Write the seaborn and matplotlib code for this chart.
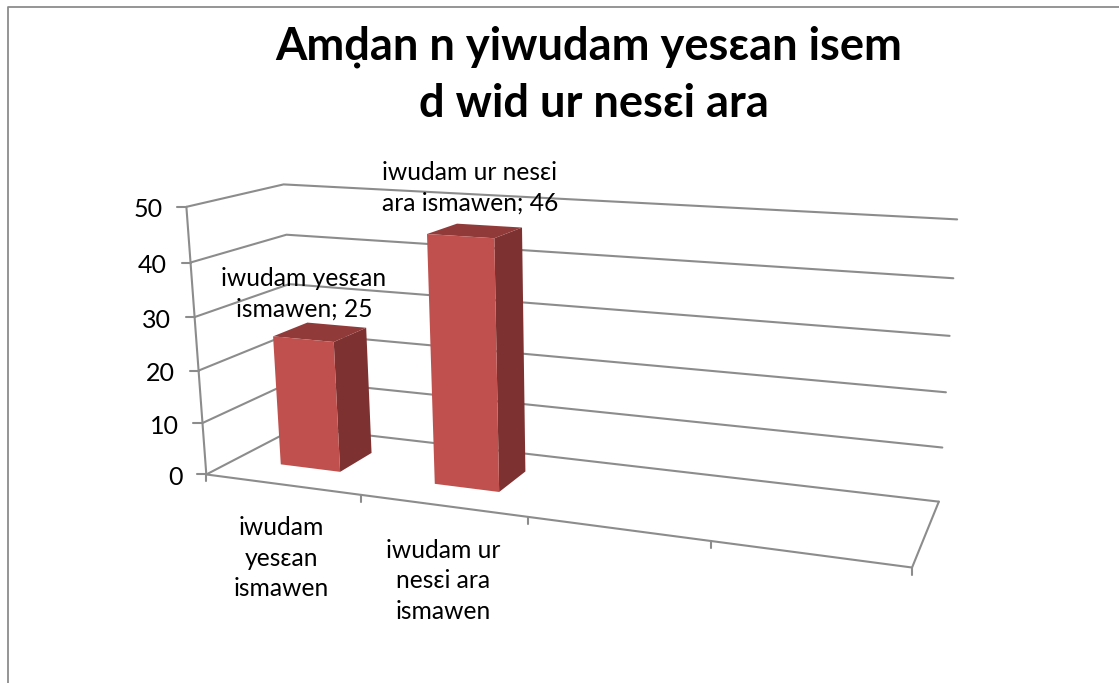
import numpy as np
import pandas as pd
import matplotlib
matplotlib.use("Agg")
import matplotlib.pyplot as plt
import seaborn as sns
from matplotlib.patches import Polygon
from matplotlib.transforms import Affine2D, Transform

categories = ["iwudam yesɛan ismawen", "iwudam ur nesɛi ara ismawen"]
values = [25, 46]
slots = 4
y_ticks = [0, 10, 20, 30, 40, 50]
title_lines = ["Amḍan n yiwudam yesɛan isem", "d wid ur nesɛi ara"]
x_tick_labels = ["iwudam\nyesɛan\nismawen", "iwudam ur\nnesɛi ara\nismawen"]
bar_labels = ["iwudam yesɛan\nismawen; 25", "iwudam ur nesɛi\nara ismawen; 46"]

# where the 3d box corners sit on the picture, used to fit the camera
wall_front_left = [(205, 475), (202.3, 423.3), (199.3, 370), (195, 316.7), (191.7, 261.7), (186.7, 207.3)]
wall_back_right = [(938.3, 501), (942.7, 447.7), (946, 392.3), (949.7, 336), (953.3, 278.3), (957.3, 220)]
wall_back_left = [(299, 427), (281.7, 184.3)]
floor_front = [(360, 495.5), (527, 517.5), (712, 541), (912.3, 566.7)]

FRONT = "#C0504D"
SIDE = "#7D3130"
TOP = "#903B39"
LINE = "#8C8C8C"
FONT = ["Lato", "Noto Sans", "DejaVu Sans"]

sns.set_theme(style="white")
plt.rcParams["font.family"] = FONT

x0, x1 = -0.5, slots - 0.5

world = []
image = []
for v, p in zip(y_ticks, wall_front_left):
    world.append((x0, 0, v))
    image.append(p)
for v, p in zip(y_ticks, wall_back_right):
    world.append((x1, 1, v))
    image.append(p)
for v, p in zip([0, 50], wall_back_left):
    world.append((x0, 1, v))
    image.append(p)
for i, p in enumerate(floor_front):
    world.append((x0 + i + 1, 0, 0))
    image.append(p)

A = []
b = []
for (X, D, V), (u, w) in zip(world, image):
    A.append([X, D, V, 1, 0, 0, 0, 0, -u * X, -u * D, -u * V])
    b.append(u)
    A.append([0, 0, 0, 0, X, D, V, 1, -w * X, -w * D, -w * V])
    b.append(w)
cam = np.linalg.lstsq(np.array(A), np.array(b), rcond=None)[0]
cam = np.append(cam, 1).reshape(3, 4)


def project(x, d, v):
    pts = np.column_stack([x, d, v, np.ones_like(np.asarray(x, dtype=float))])
    h = pts @ cam.T
    return h[:, :2] / h[:, 2:]


class AtDepth(Transform):
    input_dims = 2
    output_dims = 2

    def __init__(self, d):
        super().__init__()
        self.d = d

    def transform_non_affine(self, xy):
        xy = np.asarray(xy, dtype=float)
        return project(xy[:, 0], np.full(len(xy), self.d), xy[:, 1])


fig = plt.figure(figsize=(11.19, 6.83), dpi=100)
ax = fig.add_axes([0, 0, 1, 1])
pix = Affine2D().scale(1, -1).translate(0, 683)

df = pd.DataFrame({"group": categories, "count": values})
sns.barplot(data=df, x="group", y="count", color=FRONT, saturation=1, width=0.395, linewidth=0, ax=ax)
ax.set_axis_off()


def line(pts, **kw):
    pts = np.asarray(pts)
    ax.plot(pts[:, 0], pts[:, 1], color=LINE, lw=1.5, transform=pix, clip_on=False, zorder=1, **kw)


# walls and floor
for v in y_ticks:
    line(project([x0, x0, x1], [0, 1, 1], [v, v, v]))
    p = project([x0], [0], [v])[0]
    line([p, p - [9, 0]])
    ax.text(p[0] - 24, p[1] + 3, str(v), transform=pix, ha="right", va="center", fontsize=18, color="black")
line(project([x0, x0], [0, 0], [0, 50]))
line(project([x0, x1, x1], [0, 0, 1], [0, 0, 0]))
for i in range(slots + 1):
    p = project([x0 + i], [0], [0])[0]
    line([p, p + [0, 7]])

# the bars: seaborn gives the front face, the depth faces follow from it
d0, d1 = 0.31, 0.69
for patch in ax.containers[0].patches:
    l, w, h = patch.get_x(), patch.get_width(), patch.get_height()
    r = l + w
    patch.set_transform(AtDepth(d0) + pix)
    patch.set_clip_on(False)
    patch.set_zorder(4)
    side = project([r, r, r, r], [d0, d1, d1, d0], [0, 0, h, h])
    top = project([l, r, r, l], [d0, d0, d1, d1], [h, h, h, h])
    ax.add_patch(Polygon(side, closed=True, fc=SIDE, ec="none", transform=pix, clip_on=False, zorder=3))
    ax.add_patch(Polygon(top, closed=True, fc=TOP, ec="none", transform=pix, clip_on=False, zorder=3))

# texts
for txt, pos in zip(bar_labels, [(304, 294), (470, 188)]):
    ax.text(pos[0], pos[1], txt, transform=pix, ha="center", va="center", fontsize=17.7, linespacing=1.38, color="black", zorder=5)
for txt, pos in zip(x_tick_labels, [(281, 558), (443, 581)]):
    ax.text(pos[0], pos[1], txt, transform=pix, ha="center", va="center", fontsize=17.7, linespacing=1.42, color="black", zorder=5)
for txt, pos in zip(title_lines, [(588.5, 47), (594, 104)]):
    ax.text(pos[0], pos[1], txt, transform=pix, ha="center", va="center", fontsize=32.6, fontweight="bold", color="black")

# chart frame, only top and left fall inside the picture
ax.plot([8, 8, 1119], [683, 6.5, 6.5], color=LINE, lw=1.3, transform=pix, clip_on=False)

fig.savefig("out.png", dpi=100, facecolor="white")
